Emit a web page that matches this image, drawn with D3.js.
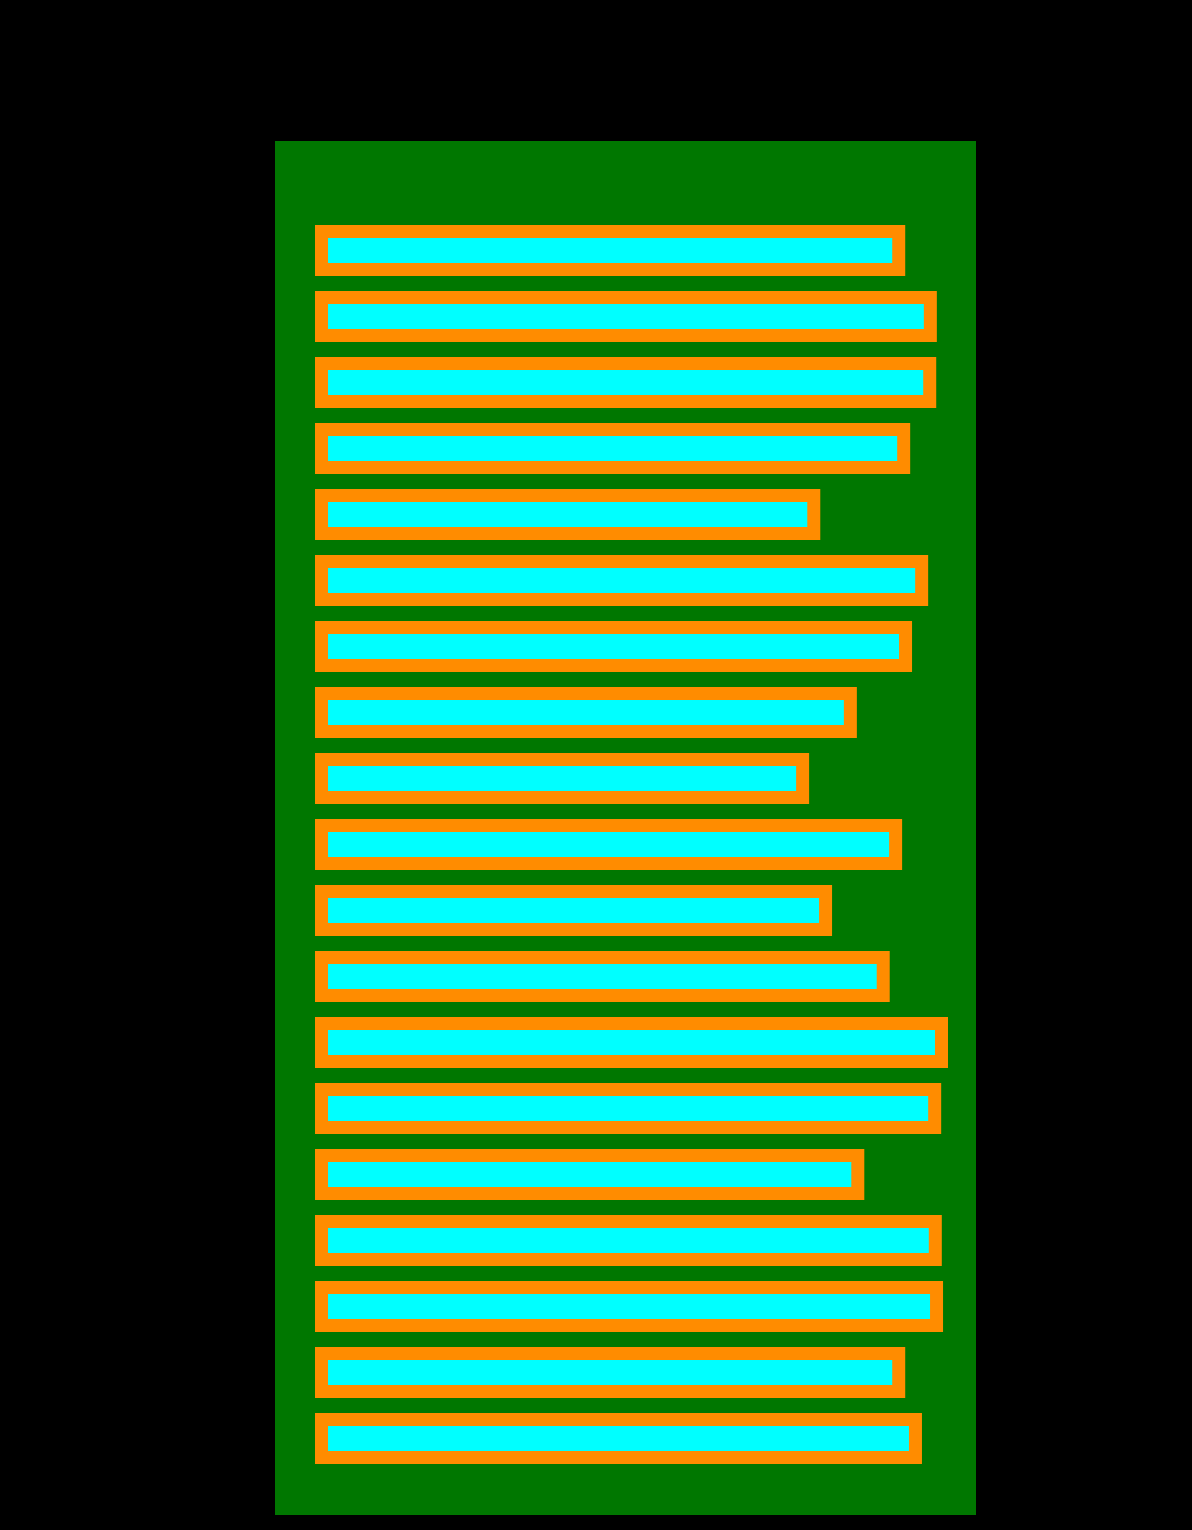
<!DOCTYPE html>
<html>
<head>
<meta charset="utf-8">
<script src="https://cdn.jsdelivr.net/npm/d3@7"></script>
<style>
  html, body { margin: 0; padding: 0; background: #000; }
  svg { display: block; }
</style>
</head>
<body>
<div id="chart"></div>
<script>
const categories = ["Item 1","Item 2","Item 3","Item 4","Item 5","Item 6","Item 7","Item 8","Item 9","Item 10",
                    "Item 11","Item 12","Item 13","Item 14","Item 15","Item 16","Item 17","Item 18","Item 19"];
const values = [93.1, 98.2, 98.1, 93.9, 79.4, 96.8, 94.2, 85.3, 77.6, 92.6,
                81.3, 90.6, 100, 98.9, 86.5, 99.0, 99.2, 93.1, 95.8];

const W = 1192, H = 1530;
const svg = d3.select("#chart").append("svg")
  .attr("width", W).attr("height", H);

svg.append("rect").attr("x", 0).attr("y", 0).attr("width", W).attr("height", H).attr("fill", "#000");

// panel
const panel = { x: 275, y: 141, w: 701, h: 1374 };
svg.append("rect")
  .attr("x", panel.x).attr("y", panel.y)
  .attr("width", panel.w).attr("height", panel.h)
  .attr("fill", "#007700");

const pad = 28 / 66;
const y = d3.scaleBand()
  .domain(categories)
  .range([203.5, 1485.5])
  .paddingInner(pad)
  .paddingOuter(pad);

const x = d3.scaleLinear()
  .domain([0, 100])
  .range([321.5, 941.5]);

svg.append("g")
  .selectAll("rect")
  .data(categories.map((c, i) => ({ c, v: values[i] })))
  .join("rect")
  .attr("x", x(0))
  .attr("y", d => y(d.c))
  .attr("width", d => x(d.v) - x(0))
  .attr("height", y.bandwidth())
  .attr("fill", "#00ffff")
  .attr("stroke", "#ff8c00")
  .attr("stroke-width", 13);
</script>
</body>
</html>
